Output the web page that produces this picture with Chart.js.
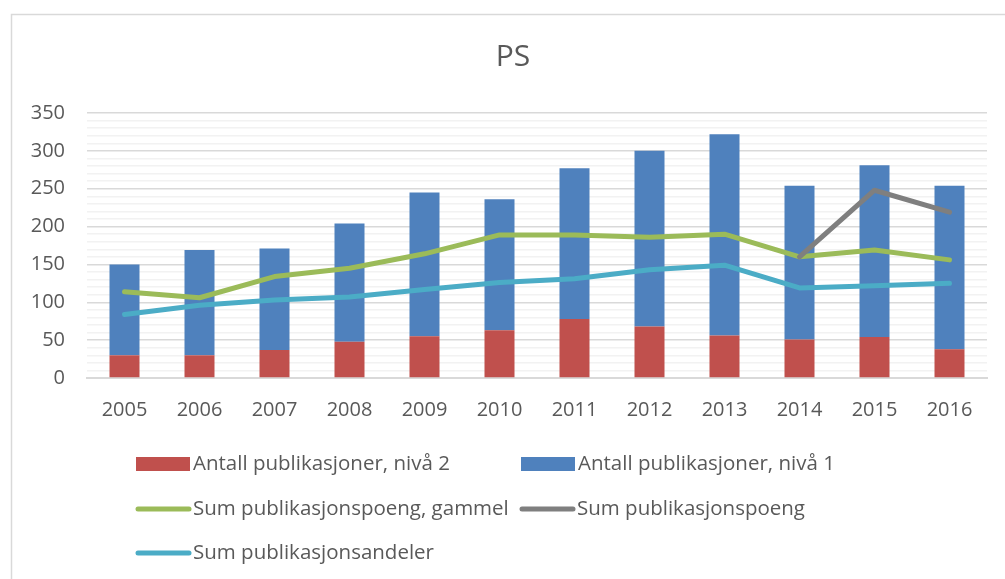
<!DOCTYPE html>
<html>
<head>
<meta charset="utf-8">
<script src="https://cdn.jsdelivr.net/npm/chart.js@4.4.1/dist/chart.umd.min.js"></script>
<style>
  html, body { margin: 0; padding: 0; background: #fff; }
</style>
</head>
<body>
<canvas id="psChart" width="1005" height="579"></canvas>
<script>
const years = ["2005", "2006", "2007", "2008", "2009", "2010", "2011", "2012", "2013", "2014", "2015", "2016"];
const nivaa2 = [30, 30, 37, 48, 55, 63, 78, 68, 56, 51, 54, 38];
const nivaa1 = [120, 139, 134, 156, 190, 173, 199, 232, 266, 203, 227, 216];
const poengGammel = [114, 106, 134, 145, 164, 189, 189, 186, 190, 160, 169, 156];
const poengNy = [null, null, null, null, null, null, null, null, null, 160, 248, 219];
const andeler = [84, 96, 103, 107, 117, 126, 131, 143, 149, 119, 122, 125];

const chartTitle = 'PS';
const textColor = '#595959';
const fontFamily = "'Open Sans', 'DejaVu Sans', sans-serif";

// frame round the chart plus the title, centred on the frame
const framePlugin = {
    id: 'frame',
    beforeDraw(chart) {
        const ctx = chart.ctx;
        ctx.save();
        ctx.strokeStyle = '#d9d9d9';
        ctx.lineWidth = 1.5;
        ctx.strokeRect(11.5, 14.5, 1020, 600);
        ctx.fillStyle = textColor;
        ctx.font = "30px " + fontFamily;
        ctx.textAlign = 'center';
        ctx.textBaseline = 'middle';
        ctx.fillText(chartTitle, 513, 57);
        ctx.restore();
    }
};

// legend laid out in two columns, drawn from the datasets
const gridLegend = {
    id: 'gridLegend',
    afterDraw(chart) {
        const ctx = chart.ctx;
        const slots = [
            {x: 136, y: 464}, {x: 521, y: 464},
            {x: 136, y: 509}, {x: 520, y: 509},
            {x: 136, y: 553}
        ];
        ctx.save();
        ctx.font = "20.5px " + fontFamily;
        ctx.textBaseline = 'middle';
        chart.data.datasets.forEach((ds, i) => {
            const s = slots[i];
            if (ds.type === 'line') {
                ctx.strokeStyle = ds.borderColor;
                ctx.lineWidth = 5;
                ctx.lineCap = 'round';
                ctx.beginPath();
                ctx.moveTo(s.x + 2, s.y);
                ctx.lineTo(s.x + 53, s.y);
                ctx.stroke();
            } else {
                ctx.fillStyle = ds.backgroundColor;
                ctx.fillRect(s.x, s.y - 7, 54, 14);
            }
            ctx.fillStyle = textColor;
            ctx.fillText(ds.label, s.x + 57, s.y);
        });
        ctx.restore();
    }
};

const ctx = document.getElementById('psChart').getContext('2d');
const psChart = new Chart(ctx, {
    data: {
        labels: years,
        datasets: [
            {
                type: 'bar',
                label: 'Antall publikasjoner, nivå 2',
                data: nivaa2,
                backgroundColor: '#C0504D',
                stack: 'bars',
                order: 2,
                barPercentage: 0.5,
                categoryPercentage: 0.8
            },
            {
                type: 'bar',
                label: 'Antall publikasjoner, nivå 1',
                data: nivaa1,
                backgroundColor: '#4F81BD',
                stack: 'bars',
                order: 2,
                barPercentage: 0.5,
                categoryPercentage: 0.8
            },
            {
                type: 'line',
                label: 'Sum publikasjonspoeng, gammel',
                data: poengGammel,
                borderColor: '#9BBB59',
                backgroundColor: '#9BBB59',
                borderWidth: 5,
                pointRadius: 0,
                borderCapStyle: 'round',
                borderJoinStyle: 'round',
                stack: 'l1',
                order: 1
            },
            {
                type: 'line',
                label: 'Sum publikasjonspoeng',
                data: poengNy,
                borderColor: '#7F7F7F',
                backgroundColor: '#7F7F7F',
                borderWidth: 5,
                pointRadius: 0,
                borderCapStyle: 'round',
                borderJoinStyle: 'round',
                stack: 'l2',
                order: 0
            },
            {
                type: 'line',
                label: 'Sum publikasjonsandeler',
                data: andeler,
                borderColor: '#4BACC6',
                backgroundColor: '#4BACC6',
                borderWidth: 5,
                pointRadius: 0,
                borderCapStyle: 'round',
                borderJoinStyle: 'round',
                stack: 'l3',
                order: 1
            }
        ]
    },
    options: {
        responsive: false,
        animation: false,
        layout: {
            padding: {left: 0, right: 18, top: 113, bottom: 0}
        },
        plugins: {
            legend: {display: false},
            tooltip: {enabled: false},
            title: {display: false}
        },
        scales: {
            x: {
                stacked: true,
                grid: {display: false, drawTicks: false},
                border: {color: '#d9d9d9', width: 2},
                ticks: {
                    color: textColor,
                    font: {family: fontFamily, size: 20},
                    padding: 20,
                    maxRotation: 0
                },
                afterFit(scale) { scale.height = 201; }
            },
            y: {
                stacked: true,
                min: 0,
                max: 350,
                border: {display: false},
                grid: {
                    drawTicks: false,
                    lineWidth: 1.5,
                    color: (c) => (c.tick && c.tick.value % 50 === 0) ? '#d9d9d9' : '#f2f2f2'
                },
                ticks: {
                    stepSize: 10,
                    autoSkip: false,
                    color: textColor,
                    font: {family: fontFamily, size: 20},
                    padding: 22,
                    callback: (v) => (v % 50 === 0 ? v : '')
                },
                afterFit(scale) { scale.width = 87; }
            }
        }
    },
    plugins: [framePlugin, gridLegend]
});
</script>
</body>
</html>
